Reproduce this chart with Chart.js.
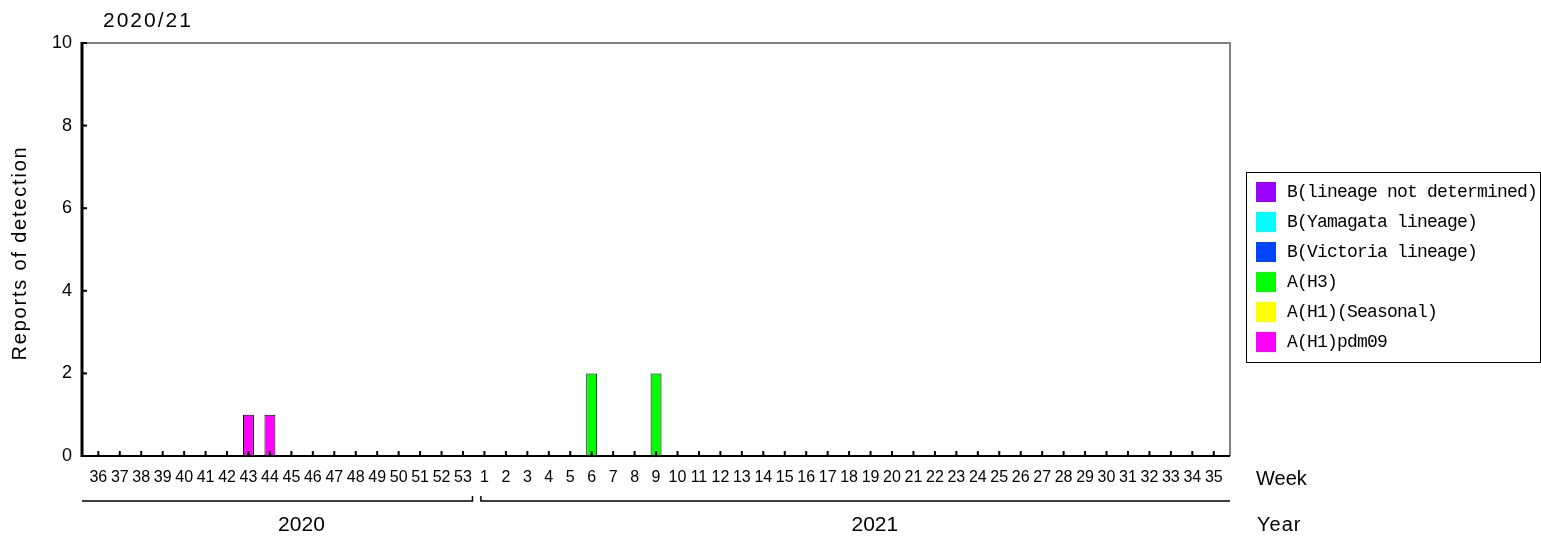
<!DOCTYPE html>
<html>
<head>
<meta charset="utf-8">
<script src="https://cdn.jsdelivr.net/npm/chart.js@4.4.1/dist/chart.umd.min.js"></script>
<style>
  html, body { margin: 0; padding: 0; background: #fff; }
  #wrap { width: 1541px; height: 540px; }
</style>
</head>
<body>
<div id="wrap"><canvas id="c" width="1541" height="540"></canvas></div>
<script>
// Dane: tygodnie sezonu 2020/21 (36-53 w 2020, 1-35 w 2021)
const SEASON = "2020/21";
const WEEKS = [
  "36", "37", "38", "39", "40", "41", "42", "43", "44", "45", "46", "47", "48", "49", "50", "51", "52", "53",
  "1", "2", "3", "4", "5", "6", "7", "8", "9", "10", "11", "12", "13", "14", "15", "16", "17", "18",
  "19", "20", "21", "22", "23", "24", "25", "26", "27", "28", "29", "30", "31", "32", "33", "34", "35",
];
const YEARS = ["2020", "2021"];
const Y_TICKS = [0, 2, 4, 6, 8, 10];

//                    36 .......................... 53 | 1 ................................................ 35
const H1PDM09   = [0,0,0,0,0,0,0,1,1,0,0,0,0,0,0,0,0,0, 0,0,0,0,0,0,0,0,0,0,0,0,0,0,0,0,0,0,0,0,0,0,0,0,0,0,0,0,0,0,0,0,0,0,0];
const H1SEAS    = [0,0,0,0,0,0,0,0,0,0,0,0,0,0,0,0,0,0, 0,0,0,0,0,0,0,0,0,0,0,0,0,0,0,0,0,0,0,0,0,0,0,0,0,0,0,0,0,0,0,0,0,0,0];
const H3        = [0,0,0,0,0,0,0,0,0,0,0,0,0,0,0,0,0,0, 0,0,0,0,0,2,0,0,2,0,0,0,0,0,0,0,0,0,0,0,0,0,0,0,0,0,0,0,0,0,0,0,0,0,0];
const B_VIC     = [0,0,0,0,0,0,0,0,0,0,0,0,0,0,0,0,0,0, 0,0,0,0,0,0,0,0,0,0,0,0,0,0,0,0,0,0,0,0,0,0,0,0,0,0,0,0,0,0,0,0,0,0,0];
const B_YAM     = [0,0,0,0,0,0,0,0,0,0,0,0,0,0,0,0,0,0, 0,0,0,0,0,0,0,0,0,0,0,0,0,0,0,0,0,0,0,0,0,0,0,0,0,0,0,0,0,0,0,0,0,0,0];
const B_ND      = [0,0,0,0,0,0,0,0,0,0,0,0,0,0,0,0,0,0, 0,0,0,0,0,0,0,0,0,0,0,0,0,0,0,0,0,0,0,0,0,0,0,0,0,0,0,0,0,0,0,0,0,0,0];

// od dołu stosu do góry
const SERIES = [
  { name: "A(H1)pdm09",              color: "#ff00ff", values: H1PDM09 },
  { name: "A(H1)(Seasonal)",         color: "#ffff00", values: H1SEAS },
  { name: "A(H3)",                   color: "#00ff00", values: H3 },
  { name: "B(Victoria lineage)",     color: "#0044ff", values: B_VIC },
  { name: "B(Yamagata lineage)",     color: "#00ffff", values: B_YAM },
  { name: "B(lineage not determined)", color: "#9900ff", values: B_ND },
];

const SANS = "'Liberation Sans', Arial, sans-serif";
const MONO = "'Liberation Mono', 'DejaVu Sans Mono', monospace";

function text(ctx, str, x, y, font, align, spacing) {
  ctx.save();
  ctx.font = font;
  ctx.fillStyle = "#000";
  ctx.textAlign = align || "left";
  ctx.textBaseline = "middle";
  if (spacing) ctx.letterSpacing = spacing + "px";
  ctx.fillText(str, x, y);
  ctx.restore();
}

// Ramka, znaczniki osi, podpisy lat, legenda — rysowane ręcznie
const decor = {
  id: "decor",
  afterDatasetsDraw(chart) {
    const { ctx, chartArea: a, scales: { x: xs, y: ys } } = chart;
    const step = xs.getPixelForValue(1) - xs.getPixelForValue(0);
    const L = a.left - 5.6, R = a.right + 5.5;
    const T = ys.getPixelForValue(10), B = ys.getPixelForValue(0);

    ctx.save();
    ctx.lineCap = "butt";
    // góra + prawa (szare)
    ctx.strokeStyle = "#808080";
    ctx.lineWidth = 2;
    ctx.beginPath();
    ctx.moveTo(L, T); ctx.lineTo(R, T); ctx.lineTo(R, B);
    ctx.stroke();
    // lewa + dół (czarne)
    ctx.strokeStyle = "#000";
    ctx.lineWidth = 3;
    ctx.beginPath();
    ctx.moveTo(L, T - 1); ctx.lineTo(L, B + 1);
    ctx.stroke();
    ctx.lineWidth = 2;
    ctx.beginPath();
    ctx.moveTo(L, B); ctx.lineTo(R, B);
    ctx.stroke();
    // znaczniki Y (do środka)
    Y_TICKS.forEach((v) => {
      const py = ys.getPixelForValue(v);
      ctx.beginPath(); ctx.moveTo(L, py); ctx.lineTo(L + 5, py); ctx.stroke();
    });
    // znaczniki X
    WEEKS.forEach((_, i) => {
      const px = xs.getPixelForValue(i);
      ctx.beginPath(); ctx.moveTo(px, B - 5); ctx.lineTo(px, B); ctx.stroke();
    });

    // nawiasy lat
    const split = WEEKS.indexOf("1");
    const yl = 501;
    const endL = xs.getPixelForValue(split - 1) + 9.5;
    const startR = xs.getPixelForValue(split) - 3.5;
    ctx.lineWidth = 1.5;
    ctx.beginPath();
    ctx.moveTo(L, yl);
    ctx.lineTo(endL, yl);
    ctx.lineTo(endL, yl - 5);
    ctx.moveTo(startR, yl - 5);
    ctx.lineTo(startR, yl);
    ctx.lineTo(R, yl);
    ctx.stroke();
    ctx.restore();

    const x0 = xs.getPixelForValue(0);
    text(ctx, YEARS[0], x0 + 9.47 * step, 525, "21px " + SANS, "center");
    text(ctx, YEARS[1], x0 + 36.2 * step, 525, "21px " + SANS, "center");
    text(ctx, "Week", 1256, 479, "20px " + SANS, "left", 0);
    text(ctx, "Year", 1257, 525, "20px " + SANS, "left", 1);

    // tytuł sezonu
    text(ctx, SEASON, 103, 21, "21px " + SANS, "left", 2);

    // oś Y — opis
    ctx.save();
    ctx.translate(20.5, 253);
    ctx.rotate(-Math.PI / 2);
    text(ctx, "Reports of detection", 0, 0, "20px " + SANS, "center", 1.8);
    ctx.restore();

    // legenda (odwrócona kolejność, jak w stosie)
    ctx.save();
    ctx.strokeStyle = "#000";
    ctx.lineWidth = 1;
    ctx.strokeRect(1246.5, 172.5, 294, 190);
    SERIES.slice().reverse().forEach((s, i) => {
      ctx.fillStyle = s.color;
      ctx.fillRect(1256, 182 + i * 30, 20, 20);
      text(ctx, s.name, 1287, 192.5 + i * 30, "18px " + MONO, "left", -0.8);
    });
    ctx.restore();
  },
};

new Chart(document.getElementById("c"), {
  type: "bar",
  data: {
    labels: WEEKS,
    datasets: SERIES.map((s) => ({
      label: s.name,
      data: s.values.map((v) => (v > 0 ? v : null)),
      backgroundColor: s.color,
      borderColor: "#000",
      borderWidth: 1,
      borderSkipped: false,
      barPercentage: 0.51,
      categoryPercentage: 1,
    })),
  },
  options: {
    responsive: false,
    animation: false,
    devicePixelRatio: 1,
    layout: { padding: { left: 0, right: 316.5, top: 43, bottom: 0 } },
    plugins: { legend: { display: false }, tooltip: { enabled: false } },
    scales: {
      x: {
        stacked: true, offset: true,
        grid: { display: false, drawTicks: false }, border: { display: false },
        ticks: { autoSkip: false, maxRotation: 0, minRotation: 0, padding: 12, color: "#000",
          font: { family: SANS, size: 16 } },
        afterFit: (s) => { s.height = 84; },
      },
      y: {
        stacked: true, min: 0, max: 10,
        grid: { display: false, drawTicks: false }, border: { display: false },
        ticks: { stepSize: 2, padding: 15.5, color: "#000", font: { family: SANS, size: 18 } },
        afterFit: (s) => { s.width = 87.6; },
      },
    },
  },
  plugins: [decor],
});
</script>
</body>
</html>
